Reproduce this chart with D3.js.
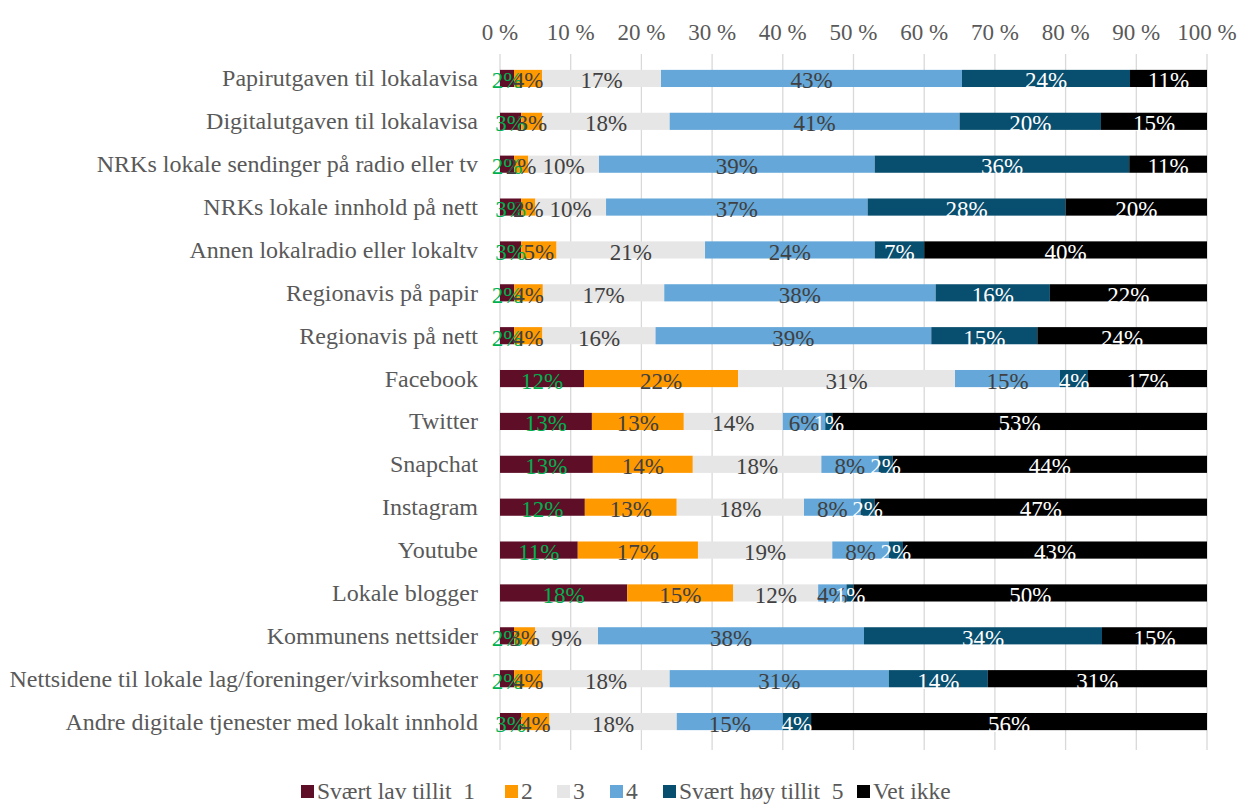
<!DOCTYPE html>
<html>
<head>
<meta charset="utf-8">
<script src="https://cdnjs.cloudflare.com/ajax/libs/d3/7.8.5/d3.min.js"></script>
<style>
  body { margin: 0; background: #fff; }
  text { font-family: "Liberation Serif", "Times New Roman", serif; }
</style>
</head>
<body>
<script>
// categories (top to bottom)
var categories = [
  "Papirutgaven til lokalavisa",
  "Digitalutgaven til lokalavisa",
  "NRKs lokale sendinger på radio eller tv",
  "NRKs lokale innhold på nett",
  "Annen lokalradio eller lokaltv",
  "Regionavis på papir",
  "Regionavis på nett",
  "Facebook",
  "Twitter",
  "Snapchat",
  "Instagram",
  "Youtube",
  "Lokale blogger",
  "Kommunens nettsider",
  "Nettsidene til lokale lag/foreninger/virksomheter",
  "Andre digitale tjenester med lokalt innhold"
];
var seriesNames = ["Svært lav tillit  1", "2", "3", "4", "Svært høy tillit  5", "Vet ikke"];

// values per series, in category order
var s1 = [2, 3, 2, 3, 3, 2, 2, 12, 13, 13, 12, 11, 18, 2, 2, 3];
var s2 = [4, 3, 2, 2, 5, 4, 4, 22, 13, 14, 13, 17, 15, 3, 4, 4];
var s3 = [17, 18, 10, 10, 21, 17, 16, 31, 14, 18, 18, 19, 12, 9, 18, 18];
var s4 = [43, 41, 39, 37, 24, 38, 39, 15, 6, 8, 8, 8, 4, 38, 31, 15];
var s5 = [24, 20, 36, 28, 7, 16, 15, 4, 1, 2, 2, 2, 1, 34, 14, 4];
var s6 = [11, 15, 11, 20, 40, 22, 24, 17, 53, 44, 47, 43, 50, 15, 31, 56];

var ticks = [0, 0.1, 0.2, 0.3, 0.4, 0.5, 0.6, 0.7, 0.8, 0.9, 1];

var colors = ["#5e0f27", "#ff9900", "#e6e6e6", "#64a7d8", "#084e6e", "#000000"];
var labelColors = ["#00b050", "#404040", "#404040", "#404040", "#ffffff", "#ffffff"];

var w = 1238, h = 804;
var plotLeft = 500, plotRight = 1207, plotTop = 57, plotBottom = 743;

var svg = d3.select("body").append("svg")
  .attr("width", w)
  .attr("height", h);

var keys = ["s1", "s2", "s3", "s4", "s5", "s6"];
var allSeries = [s1, s2, s3, s4, s5, s6];
var table = categories.map(function(c, i) {
  var row = { cat: c };
  keys.forEach(function(k, j) { row[k] = allSeries[j][i]; });
  return row;
});

var stacked = d3.stack().keys(keys).offset(d3.stackOffsetExpand)(table);

var x = d3.scaleLinear().domain([0, 1]).range([plotLeft, plotRight]);
var y = d3.scaleBand().domain(categories).range([plotTop, plotBottom]).paddingInner(0.6).paddingOuter(0.3);

// gridlines
svg.append("g")
  .selectAll("line")
  .data(ticks)
  .enter()
  .append("line")
  .attr("x1", function(d) { return x(d); })
  .attr("x2", function(d) { return x(d); })
  .attr("y1", plotTop - 3)
  .attr("y2", plotBottom + 7)
  .attr("stroke", "#d9d9d9")
  .attr("stroke-width", 1.3);

// top axis labels
svg.append("g")
  .selectAll("text")
  .data(ticks)
  .enter()
  .append("text")
  .attr("x", function(d) { return x(d); })
  .attr("y", 40)
  .attr("text-anchor", "middle")
  .attr("font-size", "23px")
  .attr("fill", "#595959")
  .text(function(d) { return Math.round(d * 100) + " %"; });

// category labels
svg.append("g")
  .selectAll("text")
  .data(categories)
  .enter()
  .append("text")
  .attr("x", 478)
  .attr("y", function(d) { return y(d) + y.bandwidth() / 2 + 8; })
  .attr("text-anchor", "end")
  .attr("font-size", "24px")
  .attr("fill", "#595959")
  .text(function(d) { return d; });

// bars
var groups = svg.append("g")
  .selectAll("g")
  .data(stacked)
  .enter()
  .append("g")
  .attr("fill", function(d, i) { return colors[i]; });

groups.selectAll("rect")
  .data(function(d) { return d; })
  .enter()
  .append("rect")
  .attr("x", function(d) { return x(d[0]); })
  .attr("width", function(d) { return x(d[1]) - x(d[0]); })
  .attr("y", function(d) { return y(d.data.cat); })
  .attr("height", y.bandwidth());

// data labels
var labelGroups = svg.append("g")
  .selectAll("g")
  .data(stacked)
  .enter()
  .append("g")
  .attr("fill", function(d, i) { return labelColors[i]; });

labelGroups.selectAll("text")
  .data(function(d) { return d.map(function(p) { return { p: p, key: d.key }; }); })
  .enter()
  .append("text")
  .attr("x", function(d) { return (x(d.p[0]) + x(d.p[1])) / 2; })
  .attr("y", function(d) { return y(d.p.data.cat) + y.bandwidth() / 2 + 10; })
  .attr("text-anchor", "middle")
  .attr("font-size", "23px")
  .text(function(d) { return d.p.data[d.key] + "%"; });

// legend
var legendX = [301, 505, 557, 610, 663, 857];
var legend = svg.append("g")
  .selectAll("g")
  .data(seriesNames)
  .enter()
  .append("g")
  .attr("transform", function(d, i) { return "translate(" + legendX[i] + ",785)"; });

legend.append("rect")
  .attr("width", 13)
  .attr("height", 13)
  .attr("fill", function(d, i) { return colors[i]; });

legend.append("text")
  .attr("x", 16)
  .attr("y", 14)
  .attr("font-size", "23.5px")
  .attr("fill", "#595959")
  .style("white-space", "pre")
  .text(function(d) { return d; });
</script>
</body>
</html>
